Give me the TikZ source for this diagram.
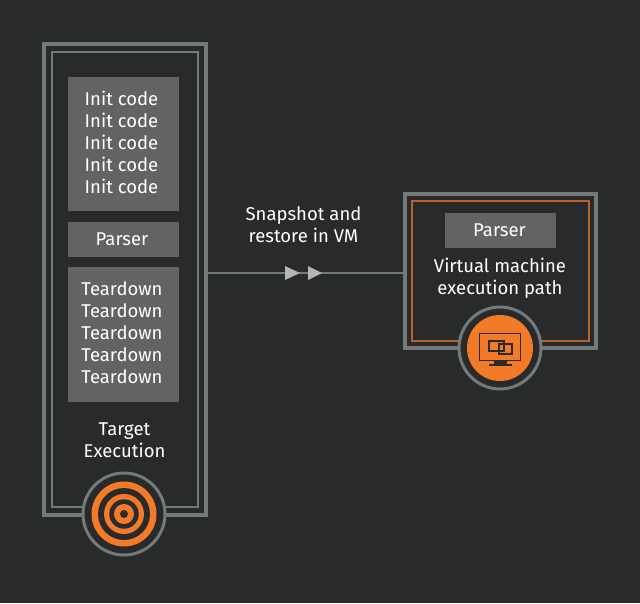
\documentclass[tikz,border=0pt]{standalone}
\usepackage{fontspec}
\setmainfont{Fira Sans}
\usetikzlibrary{positioning}
\definecolor{bgdark}{HTML}{292A2C}
\definecolor{framegrey}{HTML}{74797A}
\definecolor{boxgrey}{HTML}{626364}
\definecolor{tipgrey}{HTML}{B4B6B7}
\definecolor{accent}{HTML}{F37B28}
\definecolor{accentdim}{HTML}{B9622A}
\tikzset{
  outerframe/.style={draw=framegrey, line width=3.2pt, fill=bgdark, outer sep=0pt, minimum height=#1, anchor=north west},
  greybox/.style={fill=boxgrey, inner sep=0pt, minimum width=111pt, minimum height=#1},
  caption/.style={text=white, font=\fontsize{18.5}{22}\selectfont, align=center, inner sep=0pt},
  badge/.style={circle, draw=framegrey, line width=3pt, fill=bgdark, minimum size=82pt, inner sep=0pt},
  flowtip/.style={fill=tipgrey, draw=none}
}
\begin{document}
\begin{tikzpicture}[x=1pt, y=-1pt]
                \useasboundingbox[fill=bgdark] (0,0) rectangle (640,603);
                % left column
                \node[outerframe=471pt, minimum width=162pt] (target) at (44,44) {};
                \node[outerframe=455pt, minimum width=146pt, line width=2pt] (targetin) at (52,52) {};
                \node[greybox=134pt] (init) at (123.5,144) {};
                \node[caption] (initlabel) at (121.5,142) {Init code\\Init code\\Init code\\Init code\\Init code};
                \node[greybox=35pt] (parser) at (123.5,239.5) {};
                \node[caption] (parserlabel) at (122,239) {Parser};
                \node[greybox=135pt] (teardown) at (123.5,334.5) {};
                \node[caption] (teardownlabel) at (122,332.5) {Teardown\\Teardown\\Teardown\\Teardown\\Teardown};
                \node[caption] (targetlabel) at (124.5,440) {Target\\Execution};
                % right column
                \node[outerframe=154pt, minimum width=191pt] (vm) at (405,194) {};
                \node[draw=accentdim, line width=1.4pt, outer sep=0pt, minimum width=177pt, minimum height=140pt, anchor=north west] (vmin) at (412,201) {};
                \node[greybox=35pt] (vmparser) at (500.5,230.5) {};
                \node[caption] (vmparserlabel) at (499.5,230.5) {Parser};
                \node[caption] (vmlabel) at (500,278.5) {Virtual machine\\execution path};
                % connector
                \draw[framegrey, line width=2.6pt] (target.east |- 0,273) -- (vm.west |- 0,273);
                \fill[flowtip] (285,266) -- (300,273) -- (285,280) -- cycle;
                \fill[flowtip] (308,266) -- (322,273) -- (308,280) -- cycle;
                \node[caption] (flowlabel) at (303.5,225) {Snapshot and\\restore in VM};
                % target badge
                \node[badge] (targetbadge) at (124,514) {};
                \foreach \r/\c in {32.5/accent, 26/bgdark, 20/accent, 14.7/bgdark, 10/accent, 4/bgdark}
                  \fill[\c] (targetbadge.center) circle (\r);
                % monitor badge
                \node[badge] (vmbadge) at (500,348) {};
                \fill[accent] (vmbadge.center) circle (33);
                \draw[bgdark, line width=1.5pt] (479.5,333.5) rectangle (520.5,360.5);
                \draw[bgdark, line width=1.2pt] (489,341) rectangle (504,351);
                \draw[bgdark, line width=1.2pt] (499,344) rectangle (512,354);
                \fill[bgdark] (494,361) rectangle (507,364);
                \fill[bgdark] (489,364) rectangle (512,366);
            \end{tikzpicture}
\end{document}
